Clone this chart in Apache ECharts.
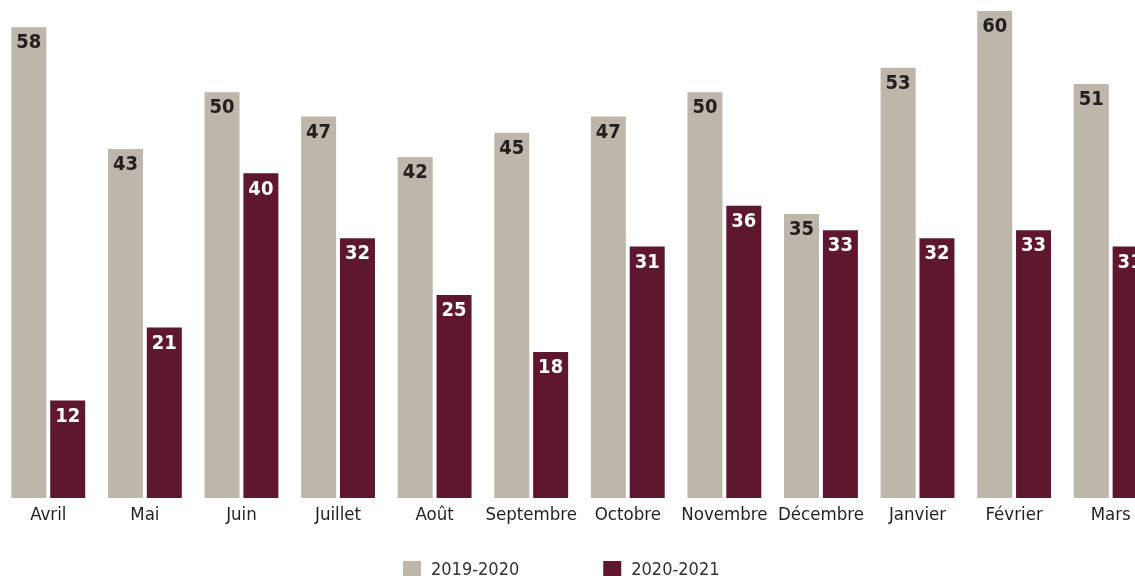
<!DOCTYPE html>
<html>
<head>
<meta charset="utf-8">
<script src="https://cdn.jsdelivr.net/npm/echarts@6/dist/echarts.min.js"></script>
<style>html,body{margin:0;padding:0;background:#fff;}#c{width:1135px;height:576px;}</style>
</head>
<body>
<div id="c"></div>
<script>
const categories = ['Avril','Mai','Juin','Juillet','Août','Septembre','Octobre','Novembre','Décembre','Janvier','Février','Mars'];
const seriesNames = ['2019-2020','2020-2021'];
const values2019 = [58,43,50,47,42,45,47,50,35,53,60,51];
const values2020 = [12,21,40,32,25,18,31,36,33,32,33,31];

const chart = echarts.init(document.getElementById('c'));
const axisFont = '"DejaVu Sans Condensed", "DejaVu Sans", sans-serif';
const valFont = '"DejaVu Sans Condensed", "DejaVu Sans", sans-serif';
chart.setOption({
  animation: false,
  backgroundColor: '#fff',
  grid: {left: 0, width: 1159, top: 11, height: 487, outerBoundsMode: 'none', containLabel: false},
  legend: {
    left: 398, top: 556, itemWidth: 18, itemHeight: 18, itemGap: 84,
    icon: 'rect',
    textStyle: {fontFamily: axisFont, fontSize: 18, color: '#333', padding: [0,0,0,5]},
    data: seriesNames
  },
  xAxis: {
    type: 'category', data: categories,
    axisLine: {show: false}, axisTick: {show: false},
    axisLabel: {interval: 0, fontFamily: axisFont, fontSize: 18.5, color: '#231f20', margin: 8}
  },
  yAxis: {type: 'value', min: 0, max: 60, show: false, splitLine: {show: false}},
  series: [
    {
      name: seriesNames[0], type: 'bar', data: values2019, barWidth: 35, barGap: '11%',
      itemStyle: {color: '#bdb6aa'},
      label: {show: true, position: 'insideTop', distance: 6, fontFamily: valFont, fontWeight: 'bold', fontSize: 20, color: '#231f20'}
    },
    {
      name: seriesNames[1], type: 'bar', data: values2020, barWidth: 35,
      itemStyle: {color: '#5e172c'},
      label: {show: true, position: 'insideTop', distance: 6, fontFamily: valFont, fontWeight: 'bold', fontSize: 20, color: '#ffffff'}
    }
  ]
});
</script>
</body>
</html>
